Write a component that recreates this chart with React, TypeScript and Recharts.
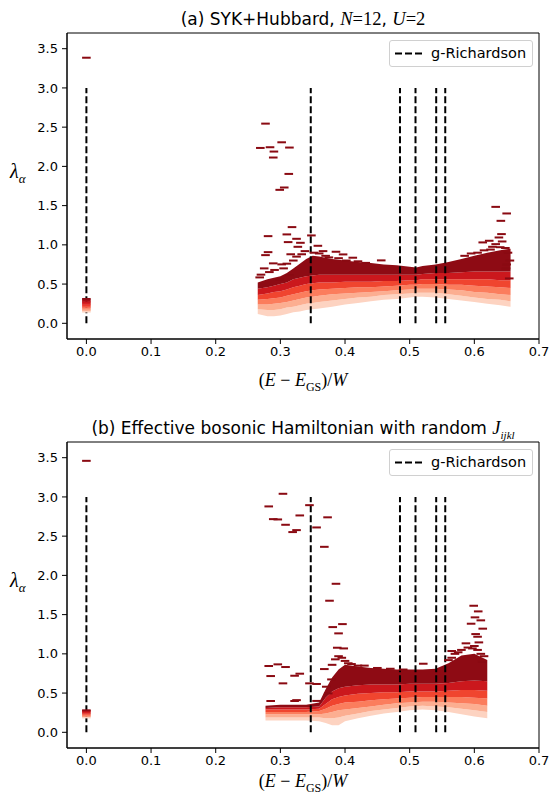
import React from 'react'
import { ComposedChart, Area, Scatter, XAxis, YAxis, ReferenceLine, ReferenceArea } from 'recharts'

// axes
const xTicks = [0, 0.1, 0.2, 0.3, 0.4, 0.5, 0.6, 0.7]
const yTicks = [0, 0.5, 1, 1.5, 2, 2.5, 3, 3.5]

// g-Richardson energies (dashed lines from 0 to 3)
const richardsonX = [0, 0.347, 0.485, 0.509, 0.541, 0.555]
const richardsonTop = 3.0

// colour of each band layer, light (bottom) -> dark (top)
const layerColors = ['#fdd3c1', '#fcae91', '#fb7d5d', '#f0452f', '#cb181d', '#8e0b14']
const outlierColor = '#8a0a12'

// panel (a): band of eigenvalues, boundaries b0 (bottom) ... b6 (top)
const aX = [0.265, 0.28, 0.29, 0.30, 0.31, 0.32, 0.33, 0.34, 0.35, 0.36, 0.38, 0.40, 0.42, 0.44, 0.46, 0.48, 0.50, 0.51, 0.52, 0.54, 0.56, 0.58, 0.60, 0.62, 0.64, 0.656]
const aB0 = [0.12, 0.09, 0.09, 0.10, 0.12, 0.14, 0.15, 0.17, 0.18, 0.19, 0.21, 0.24, 0.26, 0.28, 0.30, 0.31, 0.33, 0.34, 0.34, 0.33, 0.31, 0.29, 0.27, 0.25, 0.23, 0.21]
const aB1 = [0.18, 0.17, 0.17, 0.18, 0.20, 0.21, 0.23, 0.25, 0.26, 0.27, 0.29, 0.31, 0.33, 0.34, 0.36, 0.37, 0.38, 0.39, 0.39, 0.39, 0.37, 0.35, 0.33, 0.31, 0.30, 0.28]
const aB2 = [0.24, 0.24, 0.25, 0.26, 0.27, 0.29, 0.31, 0.33, 0.34, 0.35, 0.37, 0.38, 0.39, 0.40, 0.41, 0.42, 0.43, 0.44, 0.44, 0.44, 0.43, 0.42, 0.40, 0.39, 0.37, 0.36]
const aB3 = [0.30, 0.31, 0.32, 0.33, 0.35, 0.37, 0.39, 0.41, 0.42, 0.43, 0.44, 0.45, 0.46, 0.46, 0.47, 0.48, 0.49, 0.49, 0.50, 0.50, 0.49, 0.49, 0.48, 0.47, 0.46, 0.45]
const aB4 = [0.36, 0.38, 0.40, 0.41, 0.43, 0.46, 0.48, 0.50, 0.51, 0.52, 0.52, 0.53, 0.53, 0.53, 0.54, 0.54, 0.55, 0.55, 0.56, 0.56, 0.56, 0.56, 0.56, 0.56, 0.55, 0.55]
const aB5 = [0.44, 0.46, 0.48, 0.50, 0.52, 0.56, 0.58, 0.60, 0.61, 0.62, 0.62, 0.62, 0.62, 0.62, 0.62, 0.62, 0.62, 0.62, 0.63, 0.64, 0.64, 0.65, 0.66, 0.66, 0.66, 0.66]
const aB6 = [0.52, 0.56, 0.58, 0.60, 0.64, 0.70, 0.76, 0.82, 0.86, 0.85, 0.82, 0.80, 0.78, 0.77, 0.75, 0.74, 0.72, 0.71, 0.73, 0.75, 0.78, 0.82, 0.86, 0.90, 0.93, 0.95]

// panel (a): isolated eigenvalues above / along the top of the band
const aOutX = [0.277, 0.302, 0.284, 0.269, 0.314, 0.290, 0.289, 0.313, 0.306, 0.299, 0.318, 0.281, 0.310, 0.348, 0.325, 0.312, 0.331, 0.327, 0.281, 0.277, 0.358, 0.366, 0.386, 0.397, 0.412, 0.456, 0.289, 0.302, 0.268, 0.283, 0.299, 0.314,
  0.333, 0.338, 0.352, 0.360, 0.370, 0.375, 0.390, 0.402, 0.420, 0.432, 0.270, 0.275, 0.291, 0.305, 0.310, 0.320, 0.325, 0.316,
  0.585, 0.595, 0.605, 0.615, 0.625, 0.640, 0.648, 0.652, 0.655, 0.650,
  0.633, 0.650, 0.641, 0.642, 0.638, 0.643, 0.623, 0.613, 0.633, 0.628, 0.649, 0.654, 0.0]
const aOutY = [2.545, 2.307, 2.244, 2.235, 2.240, 2.189, 2.113, 1.904, 1.731, 1.701, 1.226, 1.111, 1.133, 1.120, 1.077, 1.035, 1.026, 0.975, 0.907, 0.869, 0.988, 0.920, 0.912, 0.878, 0.836, 0.802, 0.764, 0.751, 0.585, 0.653, 0.560, 0.615,
  0.88, 0.92, 0.90, 0.89, 0.86, 0.84, 0.83, 0.80, 0.79, 0.77, 0.62, 0.70, 0.68, 0.70, 0.76, 0.80, 0.85, 0.88,
  0.86, 0.89, 0.90, 0.93, 0.94, 0.97, 0.96, 0.90, 0.80, 0.75,
  1.484, 1.400, 1.306, 1.137, 1.094, 1.043, 1.052, 1.031, 1.009, 0.975, 0.700, 0.572, 3.385]

// panel (a): ground-state eigenvalues at E = E_GS
const aZeroY = [0.15, 0.17, 0.19, 0.21, 0.23, 0.25, 0.27, 0.29, 0.31]

// panel (b): band of eigenvalues
const bX = [0.277, 0.30, 0.32, 0.34, 0.36, 0.37, 0.38, 0.39, 0.40, 0.42, 0.44, 0.46, 0.48, 0.50, 0.52, 0.54, 0.56, 0.58, 0.60, 0.62]
const bB0 = [0.15, 0.15, 0.15, 0.15, 0.14, 0.12, 0.09, 0.09, 0.14, 0.18, 0.21, 0.24, 0.26, 0.28, 0.29, 0.28, 0.26, 0.23, 0.20, 0.18]
const bB1 = [0.19, 0.19, 0.19, 0.19, 0.19, 0.18, 0.18, 0.19, 0.21, 0.24, 0.27, 0.29, 0.31, 0.33, 0.34, 0.33, 0.32, 0.30, 0.28, 0.26]
const bB2 = [0.23, 0.23, 0.23, 0.23, 0.23, 0.24, 0.26, 0.28, 0.29, 0.31, 0.33, 0.35, 0.37, 0.38, 0.39, 0.39, 0.38, 0.37, 0.36, 0.34]
const bB3 = [0.26, 0.26, 0.26, 0.26, 0.27, 0.30, 0.34, 0.36, 0.38, 0.39, 0.41, 0.42, 0.43, 0.44, 0.45, 0.45, 0.45, 0.45, 0.44, 0.43]
const bB4 = [0.29, 0.29, 0.29, 0.29, 0.30, 0.36, 0.42, 0.45, 0.47, 0.49, 0.50, 0.51, 0.51, 0.52, 0.52, 0.52, 0.53, 0.54, 0.54, 0.53]
const bB5 = [0.31, 0.32, 0.32, 0.32, 0.33, 0.44, 0.52, 0.56, 0.58, 0.60, 0.61, 0.61, 0.61, 0.62, 0.62, 0.62, 0.63, 0.65, 0.66, 0.65]
const bB6 = [0.34, 0.35, 0.35, 0.35, 0.38, 0.55, 0.70, 0.80, 0.86, 0.84, 0.82, 0.81, 0.80, 0.80, 0.80, 0.81, 0.88, 0.98, 1.00, 0.92]

// panel (b): isolated eigenvalues
const bOutX = [0.304, 0.282, 0.345, 0.289, 0.296, 0.330, 0.373, 0.308, 0.319, 0.325, 0.356, 0.368, 0.386, 0.376, 0.381, 0.396, 0.390, 0.388, 0.398, 0.282, 0.296, 0.308, 0.285, 0.304, 0.322, 0.330, 0.345, 0.356, 0.371, 0.374, 0.368, 0.379, 0.285, 0.322, 0.325, 0.356,
  0.380, 0.385, 0.390, 0.395, 0.400, 0.405, 0.410, 0.420, 0.430, 0.450, 0.470, 0.490,
  0.560, 0.565, 0.570, 0.575, 0.580, 0.590, 0.600, 0.605, 0.610, 0.615, 0.612,
  0.599, 0.606, 0.601, 0.610, 0.595, 0.613, 0.602, 0.605, 0.607, 0.587, 0.597, 0.565, 0.521, 0.0]
const bOutY = [3.04, 2.879, 2.895, 2.717, 2.713, 2.764, 2.74, 2.645, 2.552, 2.577, 2.611, 2.364, 1.893, 1.677, 1.341, 1.379, 1.261, 1.078, 1.069, 0.845, 0.866, 0.832, 0.717, 0.624, 0.721, 0.747, 0.624, 0.616, 0.581, 0.496, 0.806, 0.674, 0.399, 0.399, 0.41, 0.40,
  0.86, 0.93, 0.97, 0.95, 0.91, 0.88, 0.87, 0.85, 0.85, 0.82, 0.81, 0.80,
  0.92, 0.95, 1.00, 1.02, 1.05, 1.08, 1.10, 1.05, 1.00, 0.97, 0.90,
  1.613, 1.541, 1.465, 1.427, 1.384, 1.321, 1.252, 1.218, 1.146, 1.134, 1.069, 1.036, 0.874, 3.46]

const bZeroY = [0.19, 0.21, 0.23, 0.25, 0.27, 0.28]

const zeroColors = ['#fdd3c1', '#fcae91', '#fb8a6a', '#f5604a', '#ef3b2c', '#d82422', '#cb181d', '#a50f15', '#8e0b14']

function buildRows(xs: number[], b: number[][]) {
  return xs.map((x, i) => ({
    x,
    l1: [b[0][i], b[1][i]],
    l2: [b[1][i], b[2][i]],
    l3: [b[2][i], b[3][i]],
    l4: [b[3][i], b[4][i]],
    l5: [b[4][i], b[5][i]],
    l6: [b[5][i], b[6][i]],
  }))
}

function buildPoints(xs: number[], ys: number[], zeroY: number[]) {
  const pts = xs.map((x, i) => ({ x, y: ys[i], c: outlierColor }))
  zeroY.forEach((y, i) => {
    const k = Math.round((i / Math.max(1, zeroY.length - 1)) * (zeroColors.length - 1))
    pts.push({ x: 0, y, c: zeroColors[k] })
  })
  return pts
}

const Dash = (props: any) => {
  const { cx, cy, payload } = props
  if (cx == null || cy == null) return null
  return <rect x={cx - 4.3} y={cy - 1} width={8.6} height={2} fill={payload.c} />
}

const tickStyle = { fill: '#000', fontSize: 13, fontFamily: 'DejaVu Sans' }
const fmt = (v: number) => v.toFixed(1)
const mathFont = "'Liberation Serif', 'DejaVu Serif', serif"

function Panel({ rows, points, height, bottom }: { rows: any[]; points: any[]; height: number; bottom: number }) {
  return (
    <ComposedChart width={551} height={height} data={rows} margin={{ top: 33, right: 12, bottom, left: 27 }}>
      <XAxis
        dataKey="x"
        type="number"
        domain={[-0.03, 0.7]}
        ticks={xTicks}
        tickFormatter={fmt}
        allowDataOverflow
        height={30}
        tick={tickStyle}
        tickSize={5}
        tickMargin={3}
        stroke="#000"
      />
      <YAxis
        type="number"
        domain={[-0.2, 3.7]}
        ticks={yTicks}
        tickFormatter={fmt}
        allowDataOverflow
        width={40}
        tick={tickStyle}
        tickSize={5}
        tickMargin={4}
        stroke="#000"
      />
      {['l1', 'l2', 'l3', 'l4', 'l5', 'l6'].map((k, i) => (
        <Area
          key={k}
          dataKey={k}
          type="linear"
          stroke="none"
          fill={layerColors[i]}
          fillOpacity={1}
          dot={false}
          activeDot={false}
          isAnimationActive={false}
        />
      ))}
      <Scatter data={points} dataKey="y" shape={<Dash />} isAnimationActive={false} />
      {richardsonX.map((x) => (
        <ReferenceLine
          key={x}
          segment={[{ x, y: 0 }, { x, y: richardsonTop }]}
          stroke="#000"
          strokeWidth={2}
          strokeDasharray="7 3"
        />
      ))}
      <ReferenceArea x1={-0.03} x2={0.7} y1={-0.2} y2={3.7} fill="none" stroke="#000" strokeWidth={1} />
    </ComposedChart>
  )
}

function LegendBox({ top }: { top: number }) {
  return (
    <div
      style={{
        position: 'absolute',
        left: 389,
        top,
        width: 144,
        height: 27,
        border: '1px solid #d0d0d0',
        borderRadius: 3,
        background: '#fff',
        boxSizing: 'border-box',
      }}
    >
      <svg width={40} height={25} style={{ position: 'absolute', left: 4, top: 0 }}>
        <line x1={1} y1={12.5} x2={30} y2={12.5} stroke="#000" strokeWidth={2} strokeDasharray="7 3" />
      </svg>
      <span style={{ position: 'absolute', left: 41, top: 3, fontSize: 14.5, lineHeight: '18px', fontFamily: 'DejaVu Sans', color: '#000', whiteSpace: 'nowrap' }}>
        g-Richardson
      </span>
    </div>
  )
}

function XLabel({ top }: { top: number }) {
  return (
    <div style={{ position: 'absolute', left: 67, width: 472, top, height: 20, lineHeight: '20px', textAlign: 'center', fontFamily: mathFont, fontSize: 18, color: '#000', whiteSpace: 'nowrap' }}>
      (<i>E</i> − <i>E</i><sub style={{ fontSize: 12, lineHeight: 0 }}>GS</sub>)/<i>W</i>
    </div>
  )
}

function YLabel({ top }: { top: number }) {
  return (
    <div style={{ position: 'absolute', left: 10, top, fontFamily: mathFont, fontSize: 20, color: '#000', whiteSpace: 'nowrap' }}>
      <i>λ</i><sub style={{ fontSize: 13 }}><i>α</i></sub>
    </div>
  )
}

export default function App() {
  const rowsA = buildRows(aX, [aB0, aB1, aB2, aB3, aB4, aB5, aB6])
  const rowsB = buildRows(bX, [bB0, bB1, bB2, bB3, bB4, bB5, bB6])
  const ptsA = buildPoints(aOutX, aOutY, aZeroY)
  const ptsB = buildPoints(bOutX, bOutY, bZeroY)
  const titleStyle: React.CSSProperties = {
    position: 'absolute',
    left: 67,
    width: 472,
    height: 22,
    lineHeight: '22px',
    textAlign: 'center',
    fontFamily: 'DejaVu Sans',
    fontSize: 17,
    color: '#000',
    whiteSpace: 'nowrap',
  }
  const math: React.CSSProperties = { fontFamily: mathFont, fontSize: 18.5 }
  return (
    <div style={{ position: 'absolute', left: 0, top: 0, width: 551, height: 796, background: '#fff', overflow: 'hidden' }}>
      <div style={{ position: 'absolute', left: 0, top: 0 }}>
        <Panel rows={rowsA} points={ptsA} height={409} bottom={40} />
      </div>
      <div style={{ position: 'absolute', left: 0, top: 409 }}>
        <Panel rows={rowsB} points={ptsB} height={387} bottom={18} />
      </div>
      <div style={{ ...titleStyle, top: 8 }}>
        (a) SYK+Hubbard, <span style={math}><i>N</i>=12</span>, <span style={math}><i>U</i>=2</span>
      </div>
      <div style={{ ...titleStyle, top: 417 }}>
        (b) Effective bosonic Hamiltonian with random <span style={math}><i>J</i><sub style={{ fontSize: 11, lineHeight: 0 }}><i>ijkl</i></sub></span>
      </div>
      <LegendBox top={40} />
      <LegendBox top={449} />
      <XLabel top={370} />
      <XLabel top={771} />
      <YLabel top={160} />
      <YLabel top={569} />
    </div>
  )
}
